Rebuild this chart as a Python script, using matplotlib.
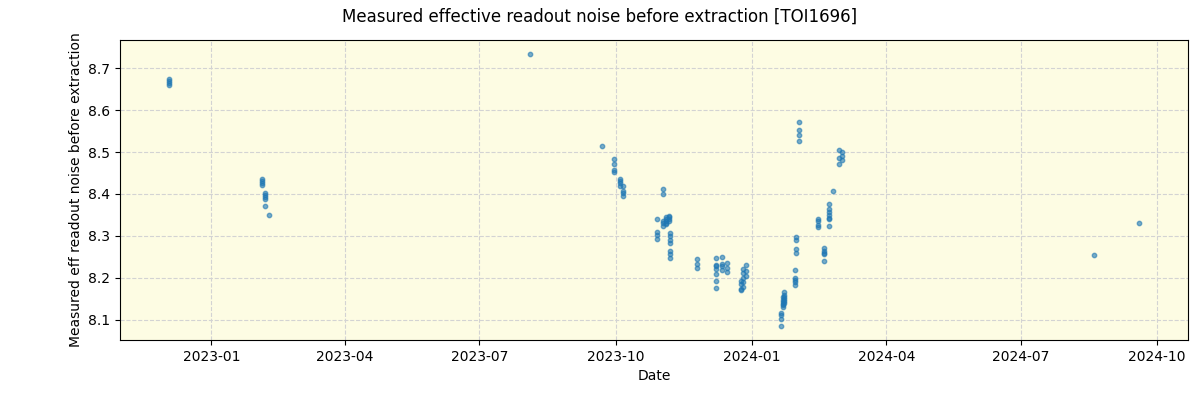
import numpy as np
import pandas as pd
import matplotlib
matplotlib.use("Agg")
import matplotlib.pyplot as plt
import matplotlib.dates as mdates

# observation nights (one date per group) and the noise values measured that night
nights = [
    "2022-12-03", "2023-02-04", "2023-02-06", "2023-02-09", "2023-08-04",
    "2023-09-22", "2023-09-30", "2023-10-04", "2023-10-06",
    "2023-10-29", "2023-11-02", "2023-11-04", "2023-11-06", "2023-11-07",
    "2023-11-25", "2023-12-08", "2023-12-12", "2023-12-15",
    "2023-12-25", "2023-12-26", "2023-12-28",
    "2024-01-21", "2024-01-22", "2024-01-23", "2024-01-30", "2024-01-31",
    "2024-02-02", "2024-02-15", "2024-02-19", "2024-02-22", "2024-02-25",
    "2024-02-29", "2024-03-02", "2024-08-19", "2024-09-19",
]
noise = [
    [8.675, 8.670, 8.665, 8.660],
    [8.436, 8.431, 8.426, 8.421],
    [8.403, 8.397, 8.392, 8.389, 8.372],
    [8.349],
    [8.735],
    [8.514],
    [8.484, 8.472, 8.457, 8.453],
    [8.436, 8.432, 8.427, 8.420],
    [8.420, 8.408, 8.402, 8.396],
    [8.341, 8.309, 8.301, 8.293],
    [8.412, 8.400, 8.336, 8.330, 8.324],
    [8.345, 8.340, 8.335, 8.330, 8.328],
    [8.348, 8.344, 8.340, 8.336],
    [8.308, 8.300, 8.290, 8.282, 8.263, 8.257, 8.247],
    [8.245, 8.233, 8.224],
    [8.247, 8.231, 8.227, 8.220, 8.209, 8.193, 8.176],
    [8.250, 8.234, 8.228, 8.219],
    [8.236, 8.224, 8.214],
    [8.192, 8.185, 8.173, 8.170],
    [8.221, 8.212, 8.200, 8.190, 8.178],
    [8.231, 8.217, 8.205],
    [8.117, 8.110, 8.102, 8.084],
    [8.155, 8.148, 8.142, 8.138, 8.135, 8.130],
    [8.165, 8.160, 8.155, 8.150, 8.145, 8.140],
    [8.219, 8.200, 8.195, 8.190, 8.183],
    [8.297, 8.289, 8.269, 8.260],
    [8.573, 8.553, 8.540, 8.527],
    [8.340, 8.335, 8.325, 8.320],
    [8.272, 8.265, 8.260, 8.256, 8.240],
    [8.375, 8.365, 8.357, 8.350, 8.343, 8.340, 8.324],
    [8.408],
    [8.506, 8.485, 8.471],
    [8.500, 8.491, 8.482],
    [8.255],
    [8.331],
]

x = []
y = []
for d, vals in zip(nights, noise):
    for v in vals:
        x.append(pd.Timestamp(d))
        y.append(v)

fig, ax = plt.subplots(figsize=(12, 4), dpi=100)
ax.set_facecolor("#fdfce3")
ax.scatter(x, y, s=10, color="tab:blue", alpha=0.6, zorder=3)
ax.grid(True, ls="--", color="lightgray", lw=0.8)
ax.set_axisbelow(True)

ax.xaxis.set_major_locator(mdates.MonthLocator(bymonth=[1, 4, 7, 10]))
ax.xaxis.set_major_formatter(mdates.DateFormatter("%Y-%m"))
ax.set_xlabel("Date")
ax.set_ylabel("Measured eff readout noise before extraction")
fig.suptitle("Measured effective readout noise before extraction [TOI1696]")

fig.subplots_adjust(left=0.1, right=0.99, top=0.9, bottom=0.15)
fig.savefig("out.png")
